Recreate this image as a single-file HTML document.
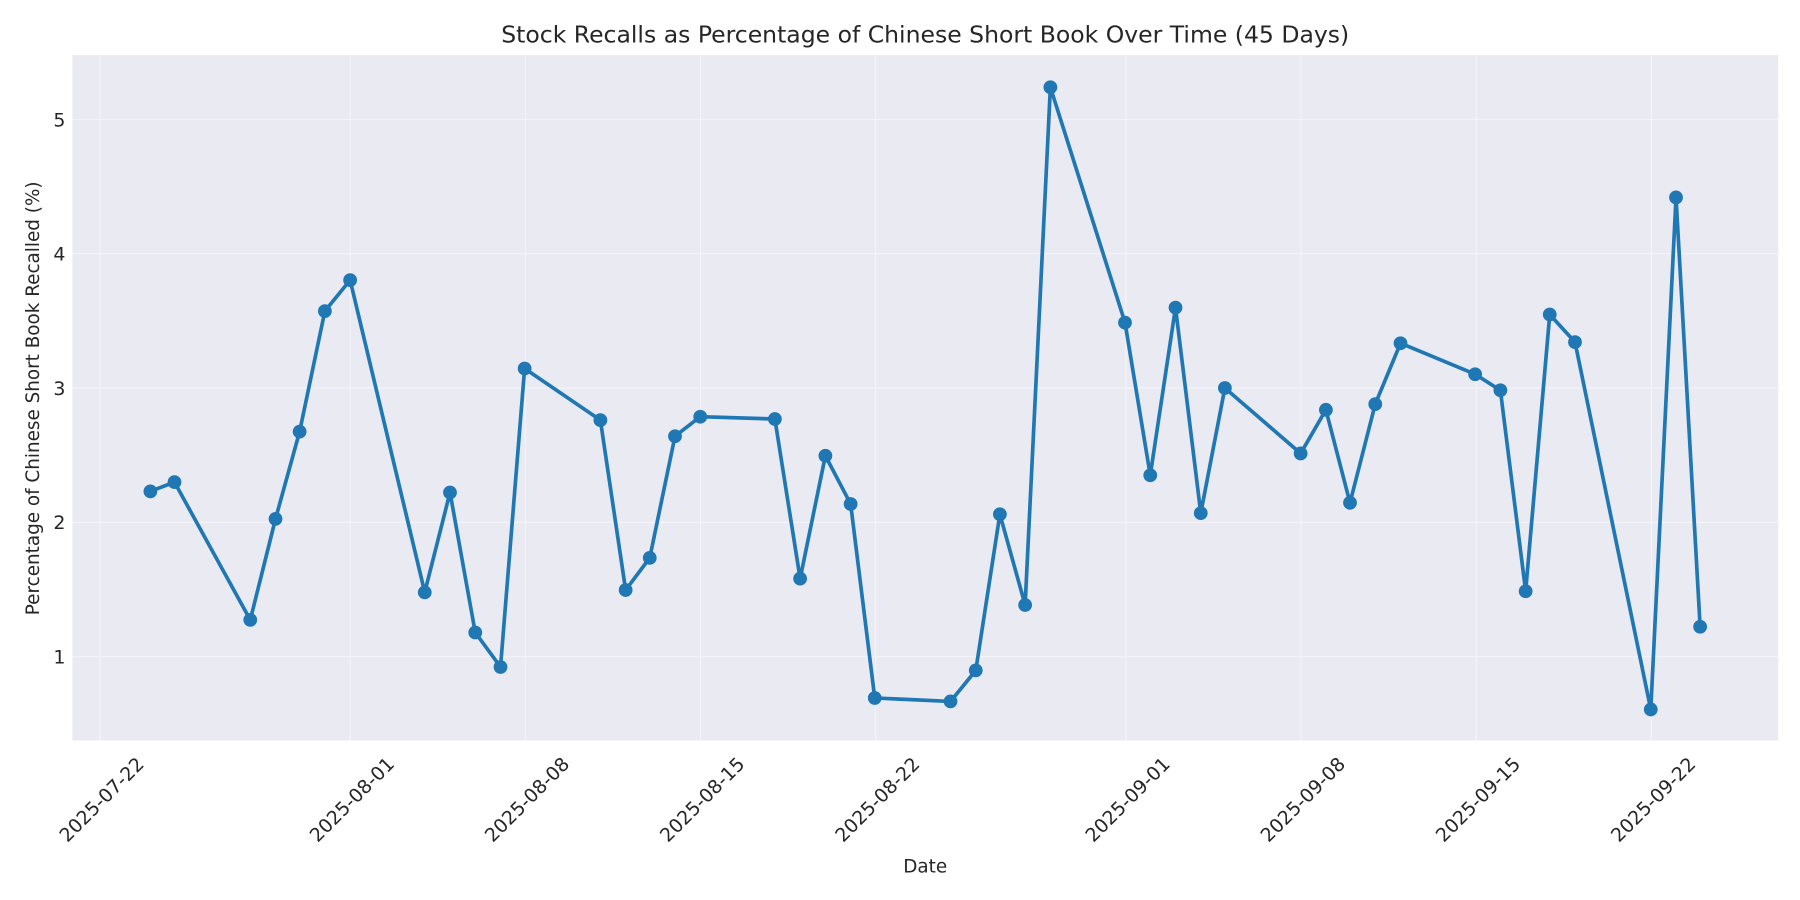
<!DOCTYPE html>
<html><head><meta charset="utf-8"><style>body{margin:0;background:#fff}svg{display:block}</style></head><body>
<svg width="1800" height="900" viewBox="0 0 1568 784" xmlns="http://www.w3.org/2000/svg" font-family="DejaVu Sans, Liberation Sans, sans-serif">
<rect x="0" y="0" width="1568" height="784" fill="#fff"/>
<rect x="63" y="48" width="1486" height="597" fill="#eaeaf2"/>
<g stroke="#f4f4f8" stroke-width="1">
<line x1="87" y1="48" x2="87" y2="645"/><line x1="305" y1="48" x2="305" y2="645"/><line x1="457.6" y1="48" x2="457.6" y2="645"/><line x1="610.2" y1="48" x2="610.2" y2="645"/><line x1="762.8" y1="48" x2="762.8" y2="645"/><line x1="980.8" y1="48" x2="980.8" y2="645"/><line x1="1133.4" y1="48" x2="1133.4" y2="645"/><line x1="1286" y1="48" x2="1286" y2="645"/><line x1="1438.6" y1="48" x2="1438.6" y2="645"/>
<line x1="63" y1="572" x2="1549" y2="572"/><line x1="63" y1="455" x2="1549" y2="455"/><line x1="63" y1="338" x2="1549" y2="338"/><line x1="63" y1="221" x2="1549" y2="221"/><line x1="63" y1="104" x2="1549" y2="104"/>
</g>
<g font-size="16.5" fill="#262626" text-anchor="end">
<text x="57" y="578">1</text><text x="57" y="461">2</text><text x="57" y="344">3</text><text x="57" y="227">4</text><text x="57" y="110">5</text>
</g>
<g font-size="16.5" fill="#262626" text-anchor="middle">
<text transform="translate(89,697) rotate(-45)" dy="5">2025-07-22</text>
<text transform="translate(307,697) rotate(-45)" dy="5">2025-08-01</text>
<text transform="translate(459.6,697) rotate(-45)" dy="5">2025-08-08</text>
<text transform="translate(612.2,697) rotate(-45)" dy="5">2025-08-15</text>
<text transform="translate(764.8,697) rotate(-45)" dy="5">2025-08-22</text>
<text transform="translate(982.8,697) rotate(-45)" dy="5">2025-09-01</text>
<text transform="translate(1135.4,697) rotate(-45)" dy="5">2025-09-08</text>
<text transform="translate(1288,697) rotate(-45)" dy="5">2025-09-15</text>
<text transform="translate(1440.6,697) rotate(-45)" dy="5">2025-09-22</text>
</g>
<text x="806" y="760" font-size="16" fill="#262626" text-anchor="middle">Date</text>
<text transform="translate(34,347) rotate(-90)" font-size="16" fill="#262626" text-anchor="middle">Percentage of Chinese Short Book Recalled (%)</text>
<text x="806" y="37" font-size="20.5" fill="#262626" text-anchor="middle">Stock Recalls as Percentage of Chinese Short Book Over Time (45 Days)</text>
<polyline fill="none" stroke="#1f77b4" stroke-width="3.2" stroke-linejoin="round" points="131,428 152,420 218,540 240,452 261,376 283,271 305,244 370,516 392,429 414,551 436,581 457,321 523,366 545,514 566,486 588,380 610,363 675,365 697,504 719,397 741,439 762,608 828,611 850,584 871,448 893,527 915,76 980,281 1002,414 1024,268 1046,447 1067,338 1133,395 1155,357 1176,438 1198,352 1220,299 1285,326 1307,340 1329,515 1350,274 1372,298 1438,618 1460,172 1481,546"/>
<g fill="#1f77b4">
<circle cx="131" cy="428" r="6"/><circle cx="152" cy="420" r="6"/><circle cx="218" cy="540" r="6"/><circle cx="240" cy="452" r="6"/><circle cx="261" cy="376" r="6"/><circle cx="283" cy="271" r="6"/><circle cx="305" cy="244" r="6"/><circle cx="370" cy="516" r="6"/><circle cx="392" cy="429" r="6"/><circle cx="414" cy="551" r="6"/><circle cx="436" cy="581" r="6"/><circle cx="457" cy="321" r="6"/><circle cx="523" cy="366" r="6"/><circle cx="545" cy="514" r="6"/><circle cx="566" cy="486" r="6"/><circle cx="588" cy="380" r="6"/><circle cx="610" cy="363" r="6"/><circle cx="675" cy="365" r="6"/><circle cx="697" cy="504" r="6"/><circle cx="719" cy="397" r="6"/><circle cx="741" cy="439" r="6"/><circle cx="762" cy="608" r="6"/><circle cx="828" cy="611" r="6"/><circle cx="850" cy="584" r="6"/><circle cx="871" cy="448" r="6"/><circle cx="893" cy="527" r="6"/><circle cx="915" cy="76" r="6"/><circle cx="980" cy="281" r="6"/><circle cx="1002" cy="414" r="6"/><circle cx="1024" cy="268" r="6"/><circle cx="1046" cy="447" r="6"/><circle cx="1067" cy="338" r="6"/><circle cx="1133" cy="395" r="6"/><circle cx="1155" cy="357" r="6"/><circle cx="1176" cy="438" r="6"/><circle cx="1198" cy="352" r="6"/><circle cx="1220" cy="299" r="6"/><circle cx="1285" cy="326" r="6"/><circle cx="1307" cy="340" r="6"/><circle cx="1329" cy="515" r="6"/><circle cx="1350" cy="274" r="6"/><circle cx="1372" cy="298" r="6"/><circle cx="1438" cy="618" r="6"/><circle cx="1460" cy="172" r="6"/><circle cx="1481" cy="546" r="6"/>
</g>
</svg>
</body></html>
